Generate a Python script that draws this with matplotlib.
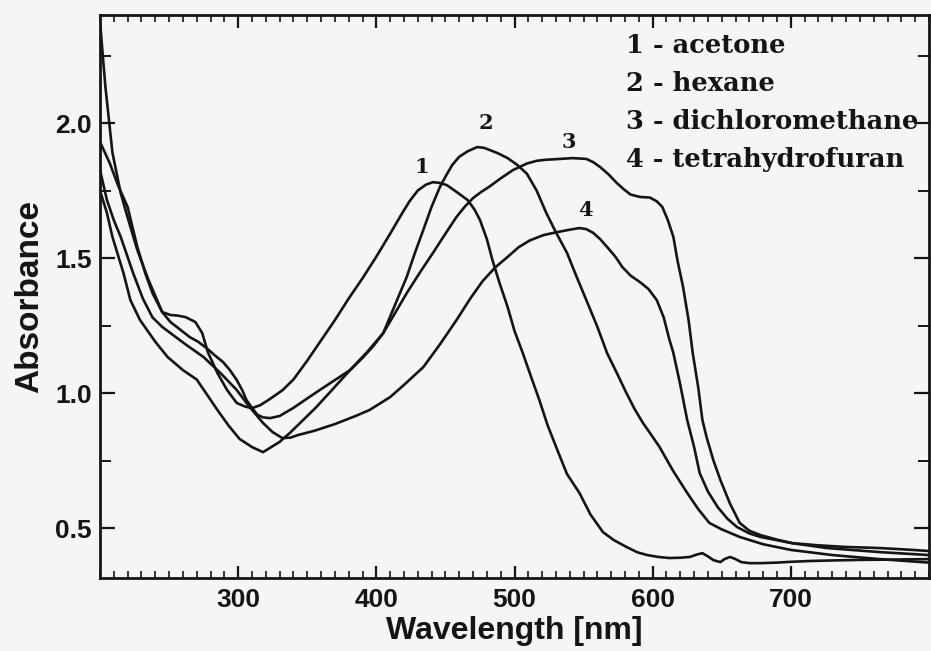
import matplotlib

matplotlib.use("Agg")
import matplotlib.pyplot as plt
from matplotlib.ticker import FixedLocator, MultipleLocator, FormatStrFormatter

# wavelength (nm) / absorbance
wl_acetone = [200, 202, 204, 209, 215, 220, 227, 235, 245, 251, 256, 262, 269, 274, 278,
              285, 292, 299, 305, 310, 316, 323, 332, 340, 350, 360, 370, 380, 390, 400,
              410, 418, 424, 430, 436, 441, 446, 451, 458, 466, 471, 475,
              480, 484, 489, 495, 500, 506, 512, 518, 524, 531, 538, 547, 555, 564, 572,
              581, 589, 596, 604, 612, 620, 627, 632, 636, 640, 644, 649, 652, 656, 660,
              664, 670, 678, 690, 700, 714, 730, 750, 770, 785, 800]
abs_acetone = [2.38, 2.25, 2.13, 1.89, 1.74, 1.65, 1.53, 1.42, 1.30, 1.289, 1.287, 1.281,
               1.263, 1.222, 1.152, 1.074, 1.011, 0.963, 0.950, 0.944, 0.955, 0.978, 1.01,
               1.05, 1.12, 1.195, 1.27, 1.35, 1.425, 1.505, 1.59, 1.66, 1.71, 1.75, 1.772,
               1.781, 1.778, 1.770, 1.745, 1.715, 1.68, 1.641,
               1.57, 1.493, 1.41, 1.319, 1.23, 1.148, 1.06, 0.974, 0.88, 0.789, 0.70, 0.63,
               0.55, 0.485, 0.455, 0.430, 0.410, 0.400, 0.393, 0.389, 0.390, 0.393, 0.402,
               0.407, 0.395, 0.381, 0.374, 0.385, 0.393, 0.385, 0.374, 0.370, 0.370, 0.372,
               0.375, 0.378, 0.380, 0.382, 0.383, 0.384, 0.385]

wl_hexane = [200, 205, 209, 217, 222, 229, 240, 249, 260, 270, 278, 285, 293, 301, 310,
             318, 324, 330, 338, 347, 356, 365, 373, 381, 390, 398, 405, 413, 422, 428,
             434, 440, 446, 451, 455, 460, 466, 473, 478, 482, 488, 495, 502, 509, 516,
             523, 530, 538, 545, 552, 560, 567, 574, 581, 587, 593, 599, 605, 615, 625,
             633, 641, 650, 663, 680, 700, 730, 764, 800]
abs_hexane = [1.75, 1.667, 1.578, 1.444, 1.344, 1.27, 1.19, 1.133, 1.085, 1.05, 0.99,
              0.937, 0.88, 0.83, 0.80, 0.781, 0.80, 0.819, 0.855, 0.9, 0.945, 0.995, 1.04,
              1.085, 1.13, 1.175, 1.222, 1.32, 1.43, 1.52, 1.604, 1.69, 1.763, 1.81, 1.845,
              1.875, 1.895, 1.911, 1.908, 1.90, 1.888, 1.870, 1.845, 1.812, 1.75, 1.667,
              1.595, 1.519, 1.43, 1.344, 1.245, 1.148, 1.075, 1.0, 0.94, 0.889, 0.845, 0.80,
              0.71, 0.63, 0.57, 0.519, 0.495, 0.467, 0.44, 0.419, 0.40, 0.385, 0.372]

wl_dcm = [200, 207, 213, 220, 227, 233, 238, 245, 251, 258, 265, 271, 277, 283, 289, 294,
          299, 303, 306, 310, 314, 318, 323, 330, 340, 350, 359, 370, 381, 393, 405, 414,
          422, 432, 441, 450, 458, 464, 470, 476, 482, 490, 499, 509, 516, 523, 533, 542,
          552, 557, 562, 568, 574, 579, 584, 591, 598, 603, 607, 611, 615, 618, 622, 626,
          629, 633, 636, 639, 644, 649, 656, 663, 670, 678, 690, 701, 720, 740, 764, 785, 800]
abs_dcm = [1.93, 1.852, 1.77, 1.689, 1.541, 1.44, 1.37, 1.30, 1.263, 1.235, 1.207, 1.19,
           1.167, 1.14, 1.115, 1.085, 1.048, 1.01, 0.974, 0.945, 0.919, 0.91, 0.907, 0.915,
           0.945, 0.98, 1.011, 1.048, 1.085, 1.15, 1.222, 1.30, 1.37, 1.45, 1.519, 1.59,
           1.652, 1.69, 1.722, 1.745, 1.765, 1.795, 1.826, 1.85, 1.86, 1.864, 1.867, 1.870,
           1.867, 1.855, 1.837, 1.81, 1.778, 1.755, 1.735, 1.726, 1.724, 1.71, 1.689, 1.64,
           1.578, 1.49, 1.393, 1.27, 1.148, 1.02, 0.9, 0.837, 0.75, 0.678, 0.59, 0.519, 0.49,
           0.474, 0.457, 0.444, 0.436, 0.43, 0.426, 0.42, 0.415]

wl_thf = [200, 205, 210, 215, 224, 231, 238, 245, 251, 262, 275, 287, 299, 308, 318, 325,
          332, 338, 343, 355, 370, 385, 395, 410, 420, 434, 446, 458, 468, 477, 486, 495,
          503, 511, 521, 531, 540, 547, 552, 557, 562, 567, 573, 578, 584, 591, 597, 603,
          608, 612, 615, 620, 625, 630, 634, 640, 647, 654, 661, 670, 678, 690, 701, 726,
          764, 800]
abs_thf = [1.826, 1.715, 1.64, 1.578, 1.444, 1.35, 1.28, 1.245, 1.222, 1.18, 1.133, 1.075,
           1.011, 0.95, 0.889, 0.855, 0.833, 0.835, 0.844, 0.86, 0.885, 0.915, 0.937, 0.985,
           1.03, 1.096, 1.18, 1.27, 1.35, 1.415, 1.465, 1.504, 1.54, 1.565, 1.585, 1.596,
           1.605, 1.611, 1.607, 1.593, 1.57, 1.541, 1.505, 1.467, 1.435, 1.41, 1.385, 1.344,
           1.28, 1.2, 1.148, 1.03, 0.9, 0.80, 0.704, 0.635, 0.578, 0.535, 0.504, 0.48, 0.467,
           0.455, 0.444, 0.426, 0.411, 0.40]

curve_numbers = ["1", "2", "3", "4"]
legend_lines = ["1 - acetone", "2 - hexane", "3 - dichloromethane", "4 - tetrahydrofuran"]
x_ticks = [300, 400, 500, 600, 700]
y_ticks = [0.5, 1.0, 1.5, 2.0]

plt.rcParams.update({
    "font.family": ["Liberation Sans", "DejaVu Sans"],
    "font.weight": "bold",
})

bg = "#f5f5f3"
ink = "#151515"

fig = plt.figure(figsize=(9.31, 6.51), dpi=100, facecolor=bg)
ax = fig.add_axes([100 / 931, 1 - 578 / 651, 829 / 931, 563 / 651])
ax.set_facecolor(bg)

series = [(wl_acetone, abs_acetone), (wl_hexane, abs_hexane),
          (wl_dcm, abs_dcm), (wl_thf, abs_thf)]
for wl, ab in series:
    ax.plot(wl, ab, color=ink, lw=1.9, solid_joinstyle="round")

ax.set_xlim(200, 800)
ax.set_ylim(0.315, 2.40)

ax.xaxis.set_major_locator(FixedLocator(x_ticks))
ax.xaxis.set_minor_locator(MultipleLocator(10))
ax.yaxis.set_major_locator(FixedLocator(y_ticks))
ax.yaxis.set_minor_locator(MultipleLocator(0.25))
ax.yaxis.set_major_formatter(FormatStrFormatter("%.1f"))

ax.tick_params(which="both", direction="in", top=True, right=True, color=ink,
               labelsize=19, labelcolor=ink)
ax.tick_params(axis="x", which="major", length=9, width=1.6, pad=7)
ax.tick_params(axis="x", which="minor", length=5, width=1.2)
ax.tick_params(axis="y", which="major", length=11, width=1.6, pad=6)
ax.tick_params(axis="y", which="minor", length=8, width=1.4)
for s in ax.spines.values():
    s.set_linewidth(2.0)
    s.set_color(ink)

ax.set_xlabel("Wavelength [nm]", fontsize=23, fontweight="bold", color=ink, labelpad=3)
ax.set_ylabel("Absorbance", fontsize=24, fontweight="bold", color=ink, labelpad=7)

# numbers next to the peaks
label_pos = [(433, 1.837), (479, 2.0), (539, 1.93), (551, 1.678)]
for num, (x, y) in zip(curve_numbers, label_pos):
    ax.text(x, y, num, fontsize=15, fontweight="bold", family="DejaVu Serif",
            ha="center", va="center", color=ink)

# legend as plain text block
for i, line in enumerate(legend_lines):
    ax.text(580.5, 2.259 - i * 0.141, line, fontsize=18.5, fontweight="bold",
            family="DejaVu Serif", ha="left", va="baseline", color=ink)

fig.savefig("out.png", dpi=100, facecolor=bg)
